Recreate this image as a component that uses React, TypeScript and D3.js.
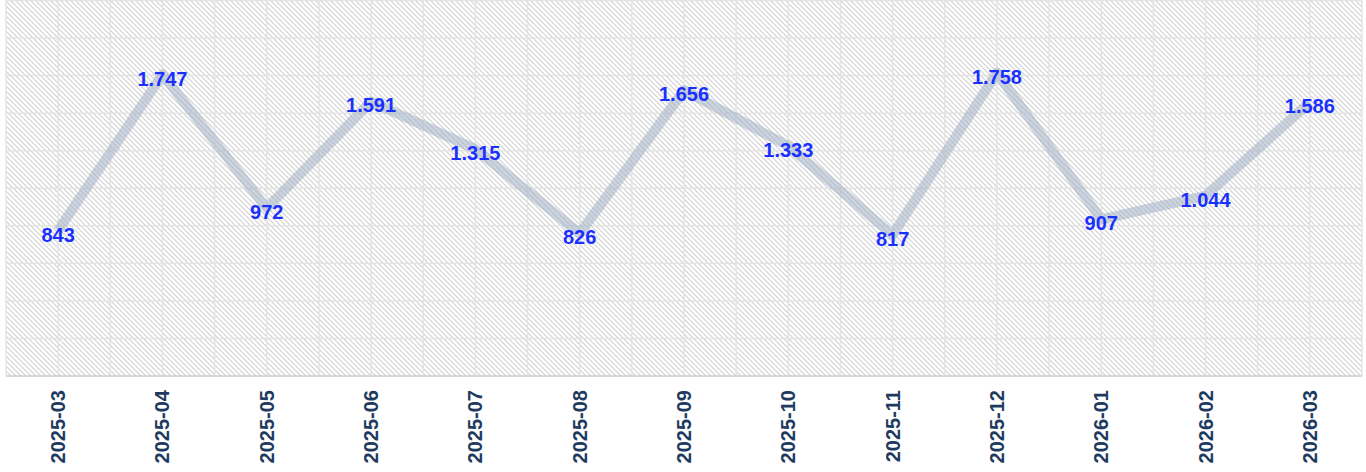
import React from "react";
import * as d3 from "d3";

const categories = ["2025-03","2025-04","2025-05","2025-06","2025-07","2025-08","2025-09","2025-10","2025-11","2025-12","2026-01","2026-02","2026-03"];
const values = [843, 1747, 972, 1591, 1315, 826, 1656, 1333, 817, 1758, 907, 1044, 1586];
const yMax = 2176;

const W = 1366, H = 472;
const left = 6, right = 1362, top = 0.5, bottom = 376;

const fmt = (v: number) => d3.format(",")(v).replace(/,/g, ".");

export default function App() {
  const x = d3.scaleBand<string>().domain(categories).range([left, right]).padding(0);
  const y = d3.scaleLinear().domain([0, yMax]).range([bottom, top]);
  const cx = (c: string) => (x(c) as number) + x.bandwidth() / 2;
  const line = d3.line<number>().x((_, i) => cx(categories[i])).y((v) => y(v));
  const vGrid = d3.range(0, categories.length * 2 + 1).map((i) => left + (i * x.bandwidth()) / 2);
  const hGrid = d3.range(0, 11).map((i) => top + ((bottom - top) * i) / 10);
  return (
    <svg width={W} height={H} style={{ position: "absolute", left: 0, top: 0, display: "block", background: "#fff" }}>
      <defs>
        <pattern id="hatch" patternUnits="userSpaceOnUse" width={5} height={5}>
          <path d="M-1,-1 L6,6 M-1,4 L1,6 M4,-1 L6,1" stroke="#d0d0d0" strokeWidth={1.1} />
        </pattern>
      </defs>
      <rect x={left} y={top} width={right - left} height={bottom - top} fill="url(#hatch)" />
      {vGrid.map((gx, i) => (
        <line key={"v" + i} x1={gx} x2={gx} y1={top} y2={bottom} stroke="#e4e4e4" strokeWidth={1.5} />
      ))}
      {hGrid.map((gy, i) => (
        <line key={"h" + i} x1={left} x2={right} y1={gy} y2={gy} stroke="#e4e4e4" strokeWidth={1.5} />
      ))}
      <line x1={left} x2={right} y1={bottom} y2={bottom} stroke="#d0d0d0" strokeWidth={1.5} />
      <path d={line(values) || ""} fill="none" stroke="#a3b0c4" strokeOpacity={0.55} strokeWidth={10} strokeLinejoin="round" />
      {values.map((v, i) => (
        <text key={"l" + i} x={cx(categories[i])} y={y(v) + 4} textAnchor="middle" dominantBaseline="central"
          fontFamily="'Liberation Sans', Arial, sans-serif" fontWeight="bold" fontSize={20} fill="#1a30ff">
          {fmt(v)}
        </text>
      ))}
      {categories.map((c, i) => (
        <text key={"x" + i} transform={`translate(${cx(c)},390) rotate(-90)`} textAnchor="end" dominantBaseline="central"
          fontFamily="'Liberation Sans', Arial, sans-serif" fontWeight="bold" fontSize={20} fill="#1e3a60">
          {c}
        </text>
      ))}
    </svg>
  );
}
